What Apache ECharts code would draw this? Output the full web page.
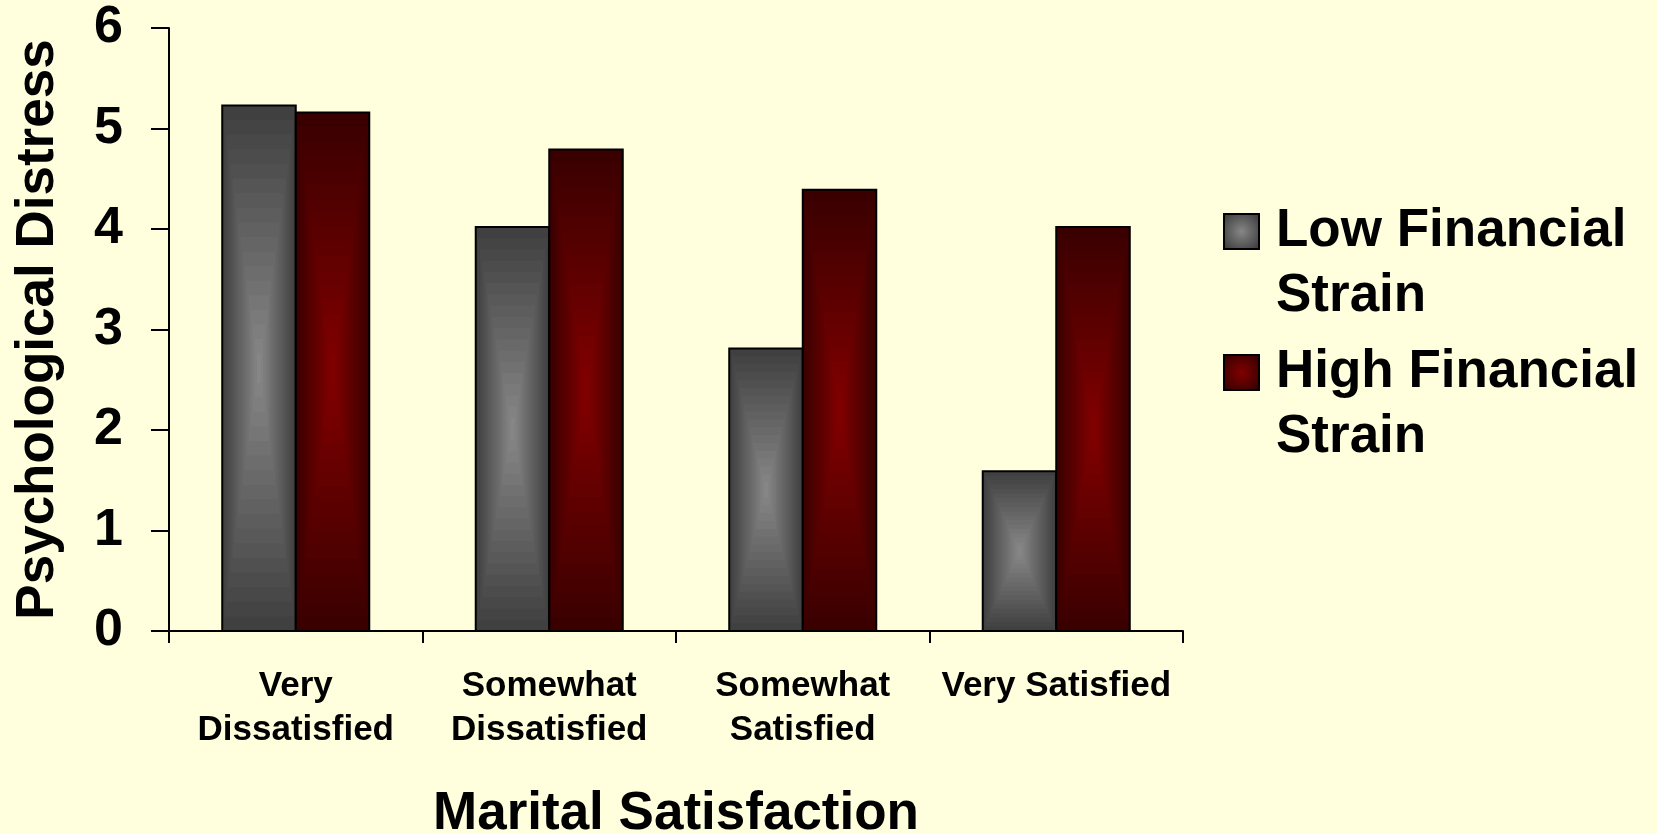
<!DOCTYPE html>
<html>
<head>
<meta charset="utf-8">
<title>Marital Satisfaction</title>
<script src="https://cdn.jsdelivr.net/npm/echarts@6/dist/echarts.min.js"></script>
<style>
  html, body { margin: 0; padding: 0; background: #ffffdd; }
  #chart { width: 1657px; height: 834px; }
</style>
</head>
<body>
<div id="chart"></div>
<script>
const categories = ['Very\nDissatisfied', 'Somewhat\nDissatisfied', 'Somewhat\nSatisfied', 'Very Satisfied']
const lowStrain = [5.23, 4.02, 2.81, 1.59]
const highStrain = [5.16, 4.79, 4.39, 4.02]
const seriesNames = ['Low Financial\nStrain', 'High Financial\nStrain']

const FONT = '"Liberation Sans", Arial, sans-serif'
const GREY = { edge: [64, 64, 64], mid: [134, 134, 134] }
const RED = { edge: [58, 0, 0], mid: [128, 0, 0] }

function mix(a, b, t) {
  const c = a.map((v, i) => Math.round(v + (b[i] - v) * t))
  return 'rgb(' + c.join(',') + ')'
}

// bar = nested rectangles, dark at the border, light in the middle
function barRenderer(pal, side) {
  return function(params, api) {
    const cat = api.value(0)
    const val = api.value(1)
    const top = api.coord([cat, val])
    const base = api.coord([cat, 0])
    const w = api.size([1, 0])[0] * 0.29
    const x0 = side < 0 ? top[0] - w : top[0]
    const h = base[1] - top[1]
    const cx = x0 + w / 2
    const cy = top[1] + h / 2
    const steps = 18
    const children = []
    for (let i = 0; i < steps; i++) {
      const s = 1 - i / steps
      children.push({
        type: 'rect',
        shape: { x: cx - w * s / 2, y: cy - h * s / 2, width: w * s, height: h * s },
        style: { fill: mix(pal.edge, pal.mid, i / (steps - 1)) }
      })
    }
    children.push({
      type: 'rect',
      shape: { x: x0, y: top[1], width: w, height: h },
      style: { fill: 'none', stroke: '#000', lineWidth: 2 }
    })
    return { type: 'group', children: children }
  }
}

function legendItem(name, pal, top) {
  return {
    data: [{
      name: name,
      itemStyle: {
        color: {
          type: 'radial', x: 0.5, y: 0.5, r: 0.6,
          colorStops: [
            { offset: 0, color: mix(pal.edge, pal.mid, 1) },
            { offset: 1, color: mix(pal.edge, pal.mid, 0) }
          ]
        },
        borderColor: '#000',
        borderWidth: 2
      }
    }],
    left: 1223,
    top: top,
    padding: 0,
    orient: 'vertical',
    icon: 'rect',
    itemWidth: 35,
    itemHeight: 35,
    selectedMode: false,
    // empty first line so the marker sits beside the first text line
    formatter: function(n) { return '\n' + n },
    textStyle: {
      fontFamily: FONT,
      fontSize: 53,
      fontWeight: 'bold',
      color: '#000',
      lineHeight: 65,
      padding: [0, 0, 0, 12]
    }
  }
}

const chart = echarts.init(document.getElementById('chart'))
const option = {
  backgroundColor: '#ffffdd',
  animation: false,
  textStyle: { fontFamily: FONT },
  grid: {
    left: 169,
    right: 474,
    top: 28,
    bottom: 203,
    outerBoundsMode: 'none'
  },
  legend: [
    legendItem(seriesNames[0], GREY, 134),
    legendItem(seriesNames[1], RED, 275)
  ],
  xAxis: {
    type: 'category',
    data: categories,
    name: 'Marital Satisfaction',
    nameLocation: 'middle',
    nameGap: 157,
    nameTextStyle: { fontFamily: FONT, fontSize: 53, fontWeight: 'bold', color: '#000' },
    axisLine: { lineStyle: { color: '#000', width: 2 } },
    axisTick: { show: true, length: 12, lineStyle: { color: '#000', width: 2 } },
    axisLabel: {
      interval: 0,
      margin: 33,
      fontFamily: FONT,
      fontSize: 35,
      fontWeight: 'bold',
      lineHeight: 44,
      color: '#000'
    }
  },
  yAxis: {
    type: 'value',
    min: 0,
    max: 6,
    interval: 1,
    name: 'Psychological Distress',
    nameLocation: 'middle',
    nameRotate: 90,
    nameGap: 104,
    nameTextStyle: { fontFamily: FONT, fontSize: 53, fontWeight: 'bold', color: '#000' },
    axisLine: { show: true, lineStyle: { color: '#000', width: 2 } },
    axisTick: { show: true, length: 18, lineStyle: { color: '#000', width: 2 } },
    splitLine: { show: false },
    axisLabel: {
      margin: 46,
      fontFamily: FONT,
      fontSize: 52,
      fontWeight: 'bold',
      color: '#000'
    }
  },
  series: [
    {
      name: seriesNames[0],
      type: 'custom',
      renderItem: barRenderer(GREY, -1),
      encode: { x: 0, y: 1 },
      itemStyle: { color: mix(GREY.edge, GREY.mid, 0.5) },
      data: lowStrain.map((v, i) => [i, v])
    },
    {
      name: seriesNames[1],
      type: 'custom',
      renderItem: barRenderer(RED, 1),
      encode: { x: 0, y: 1 },
      itemStyle: { color: mix(RED.edge, RED.mid, 0.5) },
      data: highStrain.map((v, i) => [i, v])
    }
  ]
}
chart.setOption(option)
</script>
</body>
</html>
